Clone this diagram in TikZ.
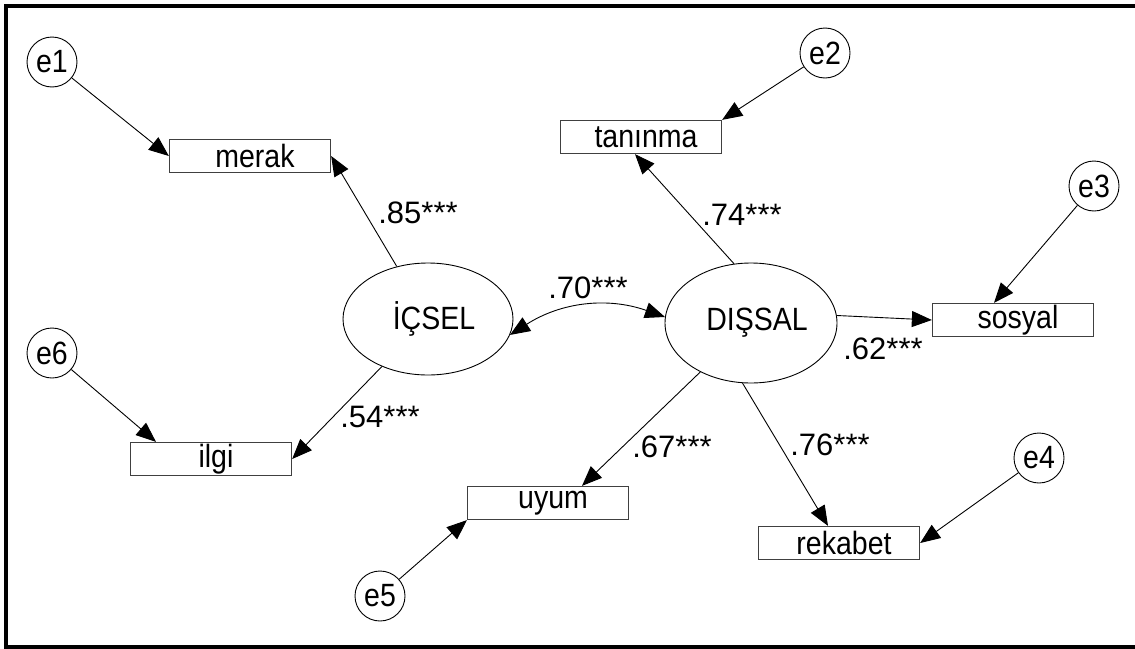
\documentclass[tikz,border=0pt]{standalone}
\usepackage{graphicx}
\usepackage{fontspec}
\setmainfont{Liberation Sans}
\usetikzlibrary{arrows.meta,shapes.geometric,calc}

% labels are set slightly taller than wide
\newcommand\tall[1]{\scalebox{1}[1.13]{#1}}

\begin{document}
\begin{tikzpicture}[x=1pt,y=-1pt,
  every node/.style={font=\fontsize{28.5}{34}\selectfont},
  obs/.style={draw=black!75, line width=1.3pt, minimum width=161pt, minimum height=33pt, inner sep=0pt,
    execute at begin node={\hspace*{10pt}}},
  err/.style={draw, circle, line width=0.9pt, minimum size=50pt, inner sep=0pt},
  lat/.style={draw, ellipse, line width=0.9pt, inner sep=0pt,
    execute at begin node={\hspace*{12pt}}},
  coef/.style={inner sep=0pt, font=\fontsize{31}{36}\selectfont},
  tip/.style={-{Triangle[length=20pt,width=16pt]}, line width=0.9pt},
  both/.style={{Triangle[length=20pt,width=16pt]}-{Triangle[length=20pt,width=16pt]}, line width=0.9pt},
]
\clip (0,0) rectangle (1135,648);
\fill[white] (0,0) rectangle (1135,648);
% outer frame (right side runs past the page edge)
\draw[line width=4pt] (6,5.75) rectangle (1150,647);

% latent variables
\node[lat, minimum width=170pt, minimum height=112pt] (icsel) at (428,319) {\tall{İÇSEL}};
\node[lat, minimum width=172pt, minimum height=120pt] (dissal) at (751,323) {\tall{DIŞSAL}};

% observed variables
\node[obs] (merak)   at (250,156) {\tall{merak}};
\node[obs] (ilgi)    at (211,459) {\tall{ilgi}};
\node[obs] (tan)     at (641,137) {\tall{tanınma}};
\node[obs] (sosyal)  at (1013,320) {\tall{sosyal}};
\node[obs] (uyum)    at (548,503) {\tall{uyum}};
\node[obs] (rekabet) at (839,543) {\tall{rekabet}};

% error terms
\node[err] (e1) at (52,62)   {\tall{e1}};
\node[err] (e2) at (825,53)  {\tall{e2}};
\node[err] (e3) at (1094,186) {\tall{e3}};
\node[err] (e4) at (1039,458) {\tall{e4}};
\node[err] (e5) at (380,596) {\tall{e5}};
\node[err] (e6) at (52,353)  {\tall{e6}};

% error paths
\draw[tip] (e1) -- (merak.west);
\draw[tip] (e6) -- ([xshift=-55pt]ilgi.north);
\draw[tip] (e2) -- (tan.north east);
\draw[tip] (e3) -- ([xshift=-19pt]sosyal.north);
\draw[tip] (e4) -- (rekabet.east);
\draw[tip] (e5) -- (uyum.south west);

% loadings
\draw[tip] (icsel) -- (merak.east);
\draw[tip] (icsel) -- (ilgi.east);
\draw[tip] (dissal.106) -- ([xshift=-6pt]tan.south);
\draw[tip] (dissal.5) -- (sosyal.west);
\draw[tip] (dissal.224) -- ([xshift=34pt]uyum.north);
\draw[tip] (dissal.262) -- ([xshift=-11pt]rekabet.north);

% covariance
\draw[both] (icsel.-11) to[bend left=26] (dissal.176);

% coefficients
\node[coef] (c85) at (418,213) {.85***};
\node[coef] (c54) at (380,417) {.54***};
\node[coef] (c70) at (588,288) {.70***};
\node[coef] (c74) at (742,215) {.74***};
\node[coef] (c62) at (883,349) {.62***};
\node[coef] (c67) at (672,447) {.67***};
\node[coef] (c76) at (830,445) {.76***};
\end{tikzpicture}
\end{document}
